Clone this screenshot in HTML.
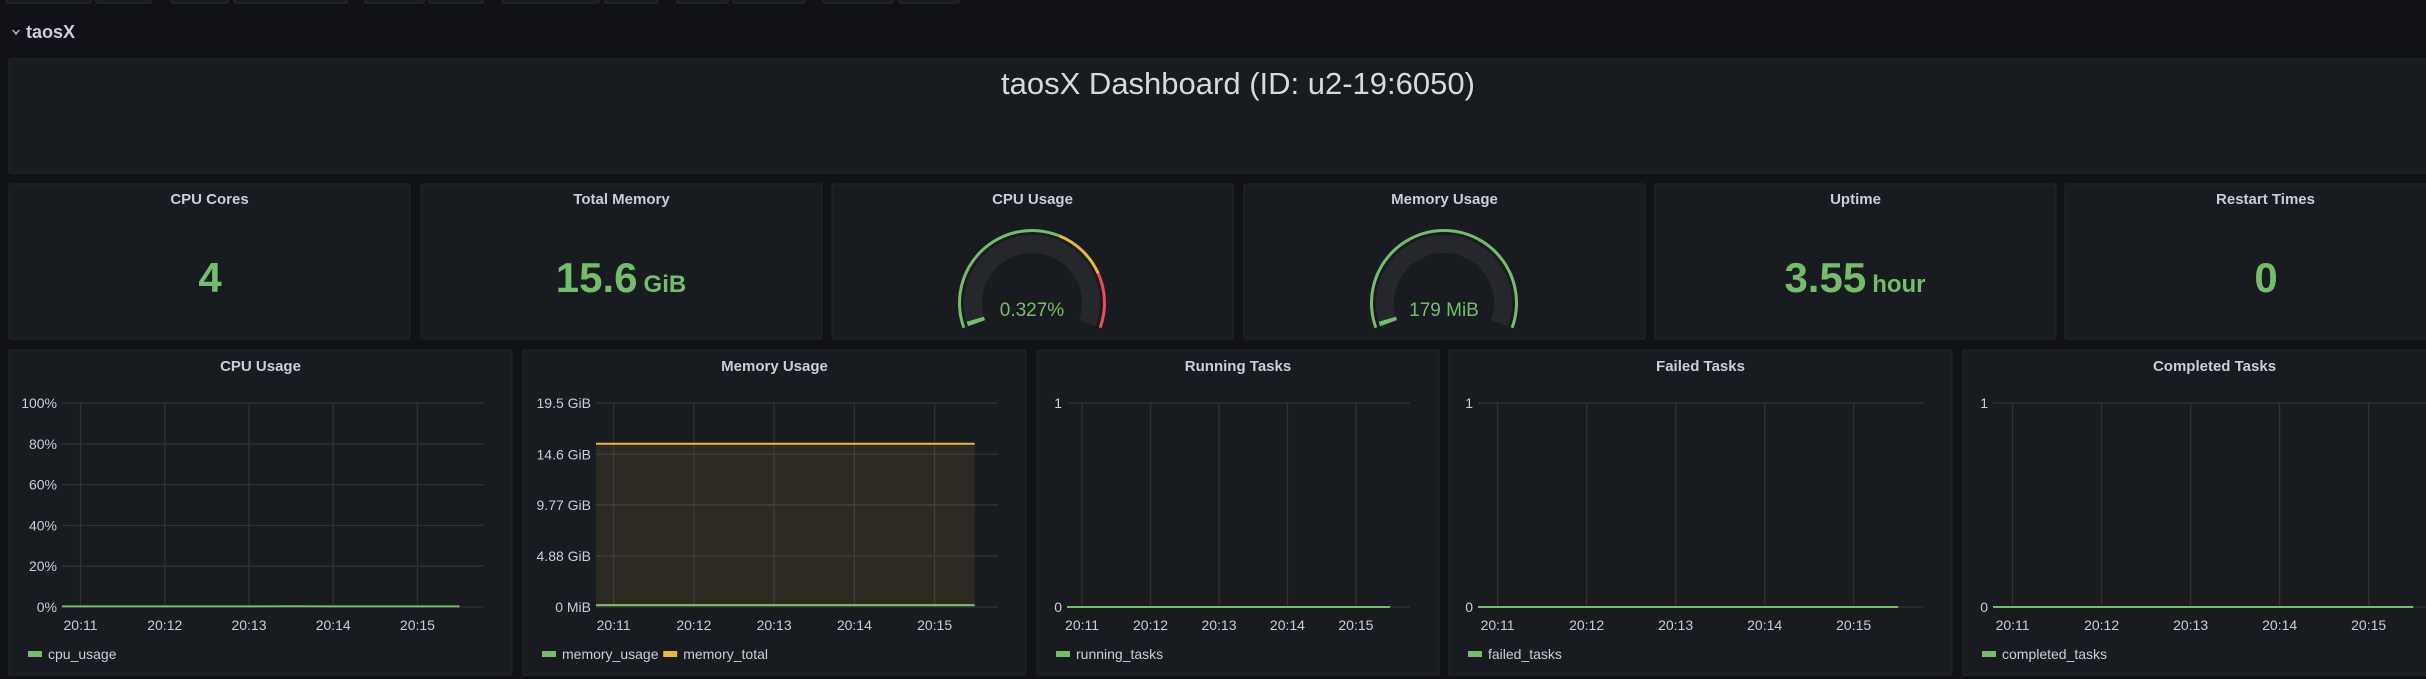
<!DOCTYPE html>
<html><head><meta charset="utf-8"><style>
html,body{margin:0;padding:0;background:#111217;width:2426px;height:679px;overflow:hidden}
svg{display:block;font-family:"Liberation Sans",sans-serif}
</style></head><body>
<svg id="root" width="2426" height="679" viewBox="0 0 2426 679" xmlns="http://www.w3.org/2000/svg">
<rect x="0" y="0" width="2426" height="679" fill="#111217"/>
<g id="topbtns"></g>
<g>
<path d="M13 30 L16 34 L19 30" stroke="#ccccdc" stroke-width="1.4" fill="none"/>
<text x="26" y="38" fill="#ccccdc" font-size="18" font-weight="bold">taosX</text>
</g>
<rect x="9" y="59" width="2430" height="114" rx="2" fill="#181b1f" stroke="#24262b"/>
<text x="1238" y="94" text-anchor="middle" fill="#d8d9da" font-size="31">taosX Dashboard (ID: u2-19:6050)</text>
<g id="stats"></g>
<g id="charts"></g>
</svg>
<script>
var NS='http://www.w3.org/2000/svg';
function mk(tag,attrs,parent){var e=document.createElementNS(NS,tag);for(var k in attrs)e.setAttribute(k,attrs[k]);parent.appendChild(e);return e;}
var root=document.getElementById('root');
var GREEN='#73bf69';

var btns=[[6,91],[96,152],[171,228],[234,347],[365,424],[429,483],[502,599],[605,658],[677,728],[733,805],[823,893],[899,959]];
var tb=document.getElementById('topbtns');
btns.forEach(function(b){var r=mk('rect',{x:b[0],y:-3,width:b[1]-b[0],height:6,rx:2,fill:'#181b1f',stroke:'#2c2e33'},tb);

});

var statTitles=['CPU Cores','Total Memory','CPU Usage','Memory Usage','Uptime','Restart Times'];
var statX=[9,421,832,1244,1655,2065];
var sg=document.getElementById('stats');
statTitles.forEach(function(t,i){
 var g=mk('g',{},sg);
 
 
 var r=mk('rect',{x:statX[i],y:184,width:401,height:155,rx:2,fill:'#181b1f',stroke:'#24262b'},g);
 
 
 var tx=mk('text',{x:statX[i]+200.5,y:204,'text-anchor':'middle',fill:'#ccccdc','font-size':15,'font-weight':'bold'},g);
 tx.textContent=t;
 
 
});
function bigStat(cx,val,unit,name){
 var t=mk('text',{x:cx,y:292,'text-anchor':'middle',fill:GREEN,'font-size':42,'font-weight':'bold'},sg);
 
 
 var s=mk('tspan',{},t);s.textContent=val;
 if(unit){var u=mk('tspan',{'font-size':24,dx:6},t);u.textContent=unit;}
}
bigStat(210,'4','','cpu-cores-value');
bigStat(621,'15.6','GiB','total-memory-value');
bigStat(1855,'3.55','hour','uptime-value');
bigStat(2266,'0','','restart-times-value');

var cpuGaugeValue=0.327, cpuGaugeMax=100, cpuThresholds=[0,60,80], cpuThreshColors=[GREEN,'#eab839','#f2495c'];
var memGaugeValue=179, memGaugeMax=16000, memThresholds=[0], memThreshColors=[GREEN];
function pt(cx,cy,r,a){var rad=a*Math.PI/180;return [cx+r*Math.sin(rad),cy-r*Math.cos(rad)];}
function band(cx,cy,r0,r1,a0,a1){var p1=pt(cx,cy,r1,a0),p2=pt(cx,cy,r1,a1),p3=pt(cx,cy,r0,a1),p4=pt(cx,cy,r0,a0);var lg=(a1-a0)>180?1:0;
 return 'M'+p1+' A'+r1+' '+r1+' 0 '+lg+' 1 '+p2+' L'+p3+' A'+r0+' '+r0+' 0 '+lg+' 0 '+p4+' Z';}
function gauge(cx,cy,val,max,th,cols,label,name){
 var g=mk('g',{},sg);
 
 
 var A0=-110,A1=110;function ang(v){return A0+(A1-A0)*Math.min(v/max,1);}
 var bg=mk('path',{d:band(cx,cy,50,68,A0,A1),fill:'#25272c'},g);
 
 
 var va=Math.max(ang(val),A0+4);
 var vp=mk('path',{d:band(cx,cy,50,68,A0,va),fill:GREEN},g);
 
 
 for(var i=0;i<th.length;i++){var s=ang(th[i]),e=i+1<th.length?ang(th[i+1]):A1;
  var tp=mk('path',{d:band(cx,cy,71,74,s,e),fill:cols[i]},g);
  
  }
 var t=mk('text',{x:cx,y:cy+13,'text-anchor':'middle',fill:GREEN,'font-size':label.length>7?18:19},g);
 t.textContent=label;
 
 
}
gauge(1032,303,cpuGaugeValue,cpuGaugeMax,cpuThresholds,cpuThreshColors,'0.327%','cpu-usage-gauge');
gauge(1444,303,memGaugeValue,memGaugeMax,memThresholds,memThreshColors,'179 MiB','memory-usage-gauge');

var timeTicks=[11,12,13,14,15];
var timeTickLabels=['20:11','20:12','20:13','20:14','20:15'];
var sampleTimes=[10.78,11,11.5,12,12.5,13,13.5,14,14.5,15,15.5];
var cpuUsage=[0.33,0.32,0.33,0.33,0.32,0.33,0.34,0.33,0.32,0.33,0.33];
var memoryUsage=[0.174,0.175,0.175,0.175,0.175,0.175,0.175,0.175,0.175,0.175,0.175];
var memoryTotal=[15.6,15.6,15.6,15.6,15.6,15.6,15.6,15.6,15.6,15.6,15.6];
var runningTasks=[0,0,0,0,0,0,0,0,0,0,0];
var failedTasks=[0,0,0,0,0,0,0,0,0,0,0];
var completedTasks=[0,0,0,0,0,0,0,0,0,0,0];
var cpuTicks=[0,20,40,60,80,100], cpuTickLabels=['0%','20%','40%','60%','80%','100%'];
var memTicks=[0,4.88,9.77,14.6,19.5], memTickLabels=['0 MiB','4.88 GiB','9.77 GiB','14.6 GiB','19.5 GiB'];
var taskTicks=[0,1], taskTickLabels=['0','1'];
var timeDomain=[10.78,15.79];

var cg=document.getElementById('charts');
function chart(o){
 var g=mk('g',{},cg);
 
 
 var r=mk('rect',{x:o.px,y:350,width:o.pw,height:325,rx:2,fill:'#181b1f',stroke:'#24262b'},g);
 
 
 var t=mk('text',{x:o.px+o.pw/2,y:371,'text-anchor':'middle',fill:'#ccccdc','font-size':15,'font-weight':'bold'},g);
 t.textContent=o.title;
 
 
 var L=o.l,R=o.r,T=403,B=607;
 function X(v){return L+(v-timeDomain[0])/(timeDomain[1]-timeDomain[0])*(R-L);}
 function Y(v){return B-(v-o.ymin)/(o.ymax-o.ymin)*(B-T);}
 o.yTicks.forEach(function(v,i){
  var ln=mk('line',{x1:L,x2:R,y1:Y(v),y2:Y(v),stroke:'#2f3136','stroke-width':1.3},g);
  
  
  var tl=mk('text',{x:L-5,y:Y(v)+5,'text-anchor':'end',fill:'#ccccdc','font-size':14},g);
  tl.textContent=o.yLabels[i];
  
  
 });
 timeTicks.forEach(function(v,i){
  var ln=mk('line',{x1:X(v),x2:X(v),y1:T,y2:B,stroke:'#2f3136','stroke-width':1.3},g);
  
  
  var tl=mk('text',{x:X(v),y:630,'text-anchor':'middle',fill:'#ccccdc','font-size':14},g);
  tl.textContent=timeTickLabels[i];
  
  
 });
 o.series.forEach(function(s){
  var d=sampleTimes.map(function(tm,i){return (i?'L':'M')+X(tm)+' '+Y(s.values[i]);}).join(' ');
  if(s.fill){var fa=mk('path',{d:d+' L'+X(sampleTimes[sampleTimes.length-1])+' '+B+' L'+X(sampleTimes[0])+' '+B+' Z',fill:s.color,'fill-opacity':0.1},g);
   
   }
  var p=mk('path',{d:d,stroke:s.color,'stroke-width':2,fill:'none'},g);
  
  
 });
 var lx=o.px+19;
 o.series.forEach(function(s){
  var sw=mk('rect',{x:lx,y:651,width:14,height:6,fill:s.color},g);
  
  
  var lt=mk('text',{x:lx+20,y:659,fill:'#ccccdc','font-size':14},g);
  lt.textContent=s.label;
  
  
  lx+=20+s.label.length*7.6+10;
 });
}
chart({name:'cpu-usage-chart',title:'CPU Usage',px:9,pw:503,l:62,r:484,ymin:0,ymax:100,yTicks:cpuTicks,yLabels:cpuTickLabels,series:[{label:'cpu_usage',values:cpuUsage,color:GREEN}]});
chart({name:'memory-usage-chart',title:'Memory Usage',px:523,pw:503,l:596,r:998,ymin:0,ymax:19.5,yTicks:memTicks,yLabels:memTickLabels,series:[{label:'memory_usage',values:memoryUsage,color:GREEN},{label:'memory_total',values:memoryTotal,color:'#eab839',fill:true}]});
chart({name:'running-tasks-chart',title:'Running Tasks',px:1037,pw:402,l:1067,r:1410,ymin:0,ymax:1,yTicks:taskTicks,yLabels:taskTickLabels,series:[{label:'running_tasks',values:runningTasks,color:GREEN}]});
chart({name:'failed-tasks-chart',title:'Failed Tasks',px:1449,pw:503,l:1478,r:1924,ymin:0,ymax:1,yTicks:taskTicks,yLabels:taskTickLabels,series:[{label:'failed_tasks',values:failedTasks,color:GREEN}]});
chart({name:'completed-tasks-chart',title:'Completed Tasks',px:1963,pw:503,l:1993,r:2439,ymin:0,ymax:1,yTicks:taskTicks,yLabels:taskTickLabels,series:[{label:'completed_tasks',values:completedTasks,color:GREEN}]});
</script>
</body></html>
